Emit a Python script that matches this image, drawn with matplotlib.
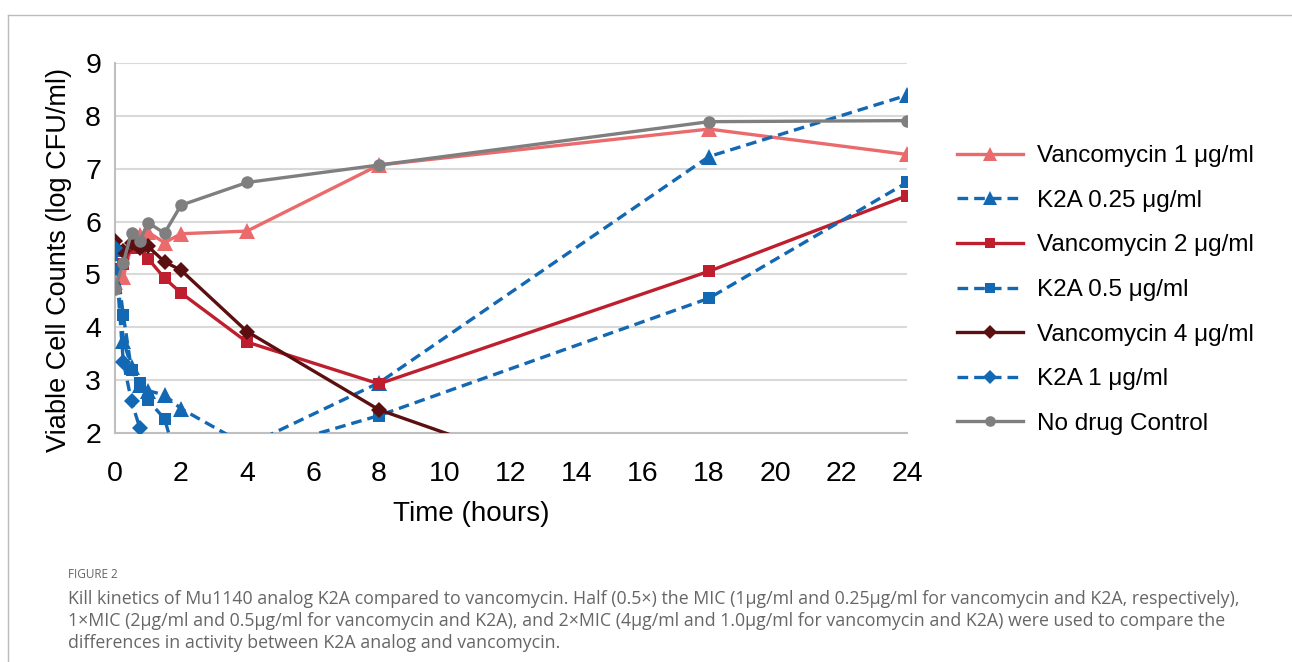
import numpy as np
import matplotlib
matplotlib.use('Agg')
import matplotlib.pyplot as plt
from matplotlib.lines import Line2D

plt.rcParams['font.family'] = ['Liberation Sans', 'DejaVu Sans']

# sampling times (hours)
hours = [0, 0.25, 0.5, 0.75, 1, 1.5, 2, 4, 8, 18, 24]

# log CFU/ml, nan = below the plotted range / not shown
vanc_1 = [4.85, 4.95, 5.55, 5.75, 5.8, 5.6, 5.77, 5.82, 7.07, 7.75, 7.27]
k2a_025 = [5.5, 3.75, 3.25, 2.9, 2.8, 2.72, 2.46, 1.76, 2.95, 7.23, 8.39]
vanc_2 = [5.1, 5.2, 5.5, 5.5, 5.3, 4.93, 4.65, 3.72, 2.93, 5.06, 6.49]
k2a_05 = [5.45, 4.24, 3.19, 2.94, 2.62, 2.27, 1.2, 1.6, 2.33, 4.55, 6.74]
vanc_4 = [5.63, 5.45, 5.6, 5.5, 5.53, 5.24, 5.08, 3.92, 2.44, 0.25, np.nan]
k2a_1 = [5.5, 3.35, 2.6, 2.1, 1.0, np.nan, np.nan, np.nan, np.nan, np.nan, np.nan]
control = [4.73, 5.22, 5.79, 5.63, 5.98, 5.78, 6.31, 6.74, 7.07, 7.89, 7.91]

labels = ['Vancomycin 1 \u03bcg/ml', 'K2A 0.25 \u03bcg/ml', 'Vancomycin 2 \u03bcg/ml',
          'K2A 0.5 \u03bcg/ml', 'Vancomycin 4 \u03bcg/ml', 'K2A 1 \u03bcg/ml', 'No drug Control']

blue = '#1268B3'
dash = (0, (3.2, 1.8))
styles = [
    (vanc_1, '#EB6A6C', '-', '^', 12),
    (k2a_025, blue, dash, '^', 12),
    (vanc_2, '#BE1E2D', '-', 's', 9),
    (k2a_05, blue, dash, 's', 9),
    (vanc_4, '#5B0F10', '-', 'D', 8.5),
    (k2a_1, blue, dash, 'D', 8.5),
    (control, '#7F7F7F', '-', 'o', 9),
]

fig = plt.figure(figsize=(12.92, 6.62), dpi=100)
ax = fig.add_axes([115 / 1292, 1 - 433 / 662, 792 / 1292, 370 / 662])

# draw order: control at the back
order = [6, 4, 2, 0, 5, 3, 1]
for i in order:
    vals, col, ls, mk, ms = styles[i]
    ax.plot(hours, vals, color=col, linestyle=ls, lw=2.4, marker=mk, ms=ms,
            markeredgewidth=0, zorder=3 + i * 0.1)

handles = []
for vals, col, ls, mk, ms in styles:
    handles.append(Line2D([], [], color=col, linestyle=ls, lw=2.4, marker=mk,
                          ms=ms * 0.85, markeredgewidth=0))

ax.set_xlim(0, 24)
ax.set_ylim(2, 9)
ax.set_xticks(range(0, 25, 2))
ax.set_yticks(range(2, 10))
ax.tick_params(length=0, labelsize=20.5)
ax.tick_params(axis='x', pad=20)
ax.tick_params(axis='y', pad=10)
ax.grid(axis='y', color='#D9D9D9', lw=1.5)
ax.set_axisbelow(True)
for s in ['top', 'right']:
    ax.spines[s].set_visible(False)
for s in ['left', 'bottom']:
    ax.spines[s].set_color('#BFBFBF')
    ax.spines[s].set_linewidth(1.5)
ax.set_xlabel('Time (hours)', fontsize=20)
ax.xaxis.set_label_coords((471 - 115) / 792, -(501 - 433) / 370)
ax.set_ylabel('Viable Cell Counts (log CFU/ml)', fontsize=19.5)
ax.yaxis.set_label_coords(-(115 - 72) / 792, (433 - 260) / 370)

fig.legend(handles, labels, loc='center left', bbox_to_anchor=(957 / 1292, 1 - 290 / 662),
           frameon=False, fontsize=17.5, handlelength=2.7, handletextpad=0.6,
           labelspacing=0.93, borderpad=0, borderaxespad=0)

# page frame lines
fig.add_artist(Line2D([8 / 1292, 1], [1 - 15 / 662, 1 - 15 / 662], color='#BBBBBB', lw=1))
fig.add_artist(Line2D([8 / 1292, 8 / 1292], [0, 1 - 15 / 662], color='#BBBBBB', lw=1))

fig.text(68 / 1292, 1 - 575 / 662, 'FIGURE 2', fontsize=8.5, color='#666666',
         family=['Open Sans', 'DejaVu Sans'], va='center')
caption = ('Kill kinetics of Mu1140 analog K2A compared to vancomycin. Half (0.5\u00d7) the MIC '
           '(1\u03bcg/ml and 0.25\u03bcg/ml for vancomycin and K2A, respectively),\n'
           '1\u00d7MIC (2\u03bcg/ml and 0.5\u03bcg/ml for vancomycin and K2A), and 2\u00d7MIC '
           '(4\u03bcg/ml and 1.0\u03bcg/ml for vancomycin and K2A) were used to compare the\n'
           'differences in activity between K2A analog and vancomycin.')
fig.text(68 / 1292, 1 - 590 / 662, caption, fontsize=12.8, color='#666666',
         family=['Open Sans', 'DejaVu Sans'], va='top', linespacing=1.3)

fig.savefig('out.png', dpi=100)
